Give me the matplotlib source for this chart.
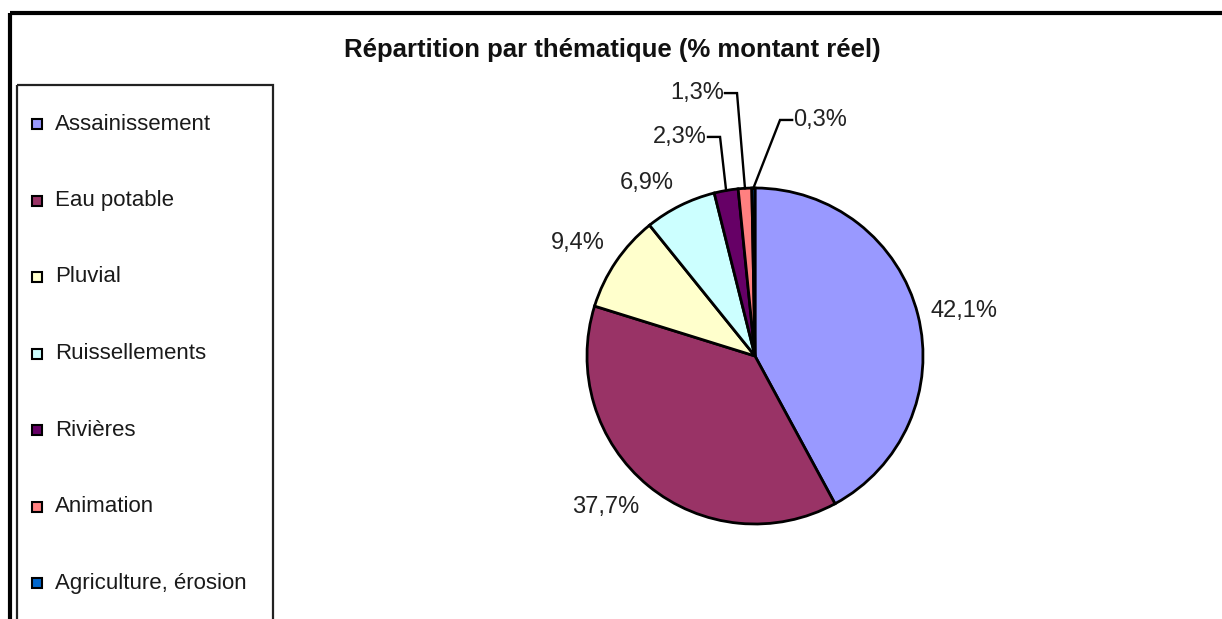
import numpy as np
import matplotlib
matplotlib.use("Agg")
import matplotlib.pyplot as plt
from matplotlib.patches import Rectangle

plt.rcParams["font.family"] = ["Liberation Sans", "DejaVu Sans"]

# data
categories = ["Assainissement", "Eau potable", "Pluvial", "Ruissellements",
              "Rivières", "Animation", "Agriculture, érosion"]
shares = [42.1, 37.7, 9.4, 6.9, 2.3, 1.3, 0.3]
colors = ["#9999FF", "#993366", "#FFFFCC", "#CCFFFF", "#660066", "#FF8080", "#0066CC"]
title = "Répartition par thématique (% montant réel)"

# leader-line labels: elbow point (pie radius units) and text side
leaders = {
    "Rivières": ((-0.208, 1.304), "right"),
    "Animation": ((-0.107, 1.565), "right"),
    "Agriculture, érosion": ((0.149, 1.405), "left"),
}

W, H = 1222, 619
fig = plt.figure(figsize=(W / 100, H / 100), dpi=100)
fig.patch.set_facecolor("white")

# background overlay in pixel coords: frame, title, legend
bg = fig.add_axes([0, 0, 1, 1])
bg.set_xlim(0, W); bg.set_ylim(H, 0); bg.axis("off")
bg.add_patch(Rectangle((10, 13), 1400, 800, fill=False, ec="black", lw=3))
bg.add_patch(Rectangle((17, 85), 256, 800, fill=False, ec="#222222", lw=1.6))
bg.text(612, 50, title, ha="center", va="center", fontsize=18.5,
        fontweight="bold", color="#111111")

y0, step = 124, 76.5
for i, (lab, col) in enumerate(zip(categories, colors)):
    y = y0 + i * step
    bg.add_patch(Rectangle((32, y - 5), 10, 10, fc=col, ec="black", lw=1.5))
    bg.text(55, y, lab, ha="left", va="center", fontsize=16, color="#1a1a1a")

# pie, center (755, 356) px, radius 168 px
cx, cy, r = 755, 356, 168
half = 1.25 * r
ax = fig.add_axes([(cx - half) / W, (H - cy - half) / H, 2 * half / W, 2 * half / H])
wedges, _ = ax.pie(shares, colors=colors, startangle=90, counterclock=False,
                   wedgeprops=dict(edgecolor="black", linewidth=2))
ax.set_xlim(-1.25, 1.25); ax.set_ylim(-1.25, 1.25)

for w, lab, v in zip(wedges, categories, shares):
    txt = f"{v:.1f}%".replace(".", ",")
    a = np.deg2rad((w.theta1 + w.theta2) / 2)
    ca, sa = np.cos(a), np.sin(a)
    if lab in leaders:
        (ex, ey), side = leaders[lab]
        dx = 0.072 if side == "left" else -0.072
        ax.plot([ca, ex, ex + dx], [sa, ey, ey], color="black", lw=1.7,
                clip_on=False, solid_joinstyle="miter")
        ax.text(ex + dx * 1.1, ey, txt, ha=side, va="center", fontsize=17,
                color="#222222", clip_on=False)
        continue
    d = 1.08
    ha = "left" if ca > 0.1 else ("right" if ca < -0.1 else "center")
    va = "center" if abs(sa) < 0.4 else ("bottom" if sa > 0 else "top")
    ax.text(d * ca, d * sa, txt, ha=ha, va=va, fontsize=17, color="#222222",
            clip_on=False)

fig.savefig("out.png", dpi=100, facecolor="white")
